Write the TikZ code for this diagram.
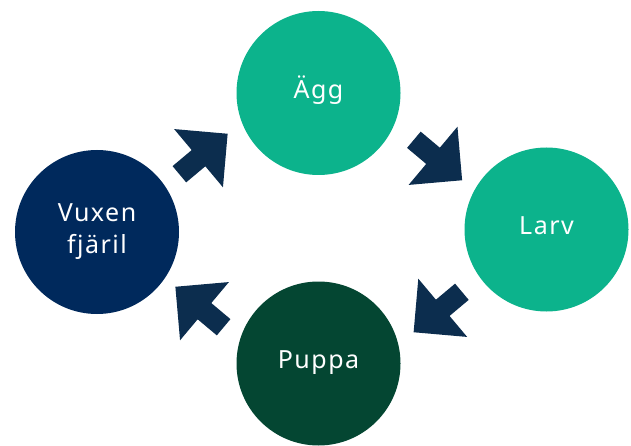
\documentclass[tikz,border=0pt]{standalone}
\usepackage{fontspec}
\setmainfont{Noto Sans}
\newfontfamily\stagefont{Noto Sans}[LetterSpace=6]
\usepackage{tikz}

\definecolor{stageteal}{RGB}{12,179,140}
\definecolor{stagegreen}{RGB}{4,70,50}
\definecolor{stagenavy}{RGB}{0,41,92}
\definecolor{arrownavy}{RGB}{12,45,78}

\begin{document}
\begin{tikzpicture}[x=1pt, y=1pt,
    stage/.style={circle, minimum size=164pt, inner sep=0pt, text=white,
        align=center, font=\stagefont\fontsize{25}{32}\selectfont},
    oneline/.style={text height=17.5pt, text depth=7pt},
    cyclearrow/.pic={
        \fill[arrownavy] (-31.5,-10.6) -- (-6.5,-10.6) -- (-6.5,-38) -- (31.5,0)
            -- (-6.5,38) -- (-6.5,10.6) -- (-31.5,10.6) -- cycle;
    }]

    % Page frame
    \useasboundingbox (0,0) rectangle (631,445);

    % Stages of the cycle
    \node[stage, oneline, fill=stageteal] (egg) at (318.5,352) {Ägg};
    \node[stage, oneline, fill=stageteal] (larva) at (546.5,215.5) {Larv};
    \node[stage, oneline, fill=stagegreen] (pupa) at (318.5,81.5) {Puppa};
    \node[stage, fill=stagenavy] (adult) at (97,213) {Vuxen\\fjäril};

    % Egg to larva
    \pic[rotate=-40] (egglarva) at (438,285) {cyclearrow};

    % Larva to pupa
    \pic[rotate=220] (larvapupa) at (437.75,133) {cyclearrow};

    % Pupa to adult
    \pic[rotate=140] (pupaadult) at (199.5,138) {cyclearrow};

    % Adult to egg
    \pic[rotate=40] (adultegg) at (203.5,291) {cyclearrow};

\end{tikzpicture}
\end{document}
